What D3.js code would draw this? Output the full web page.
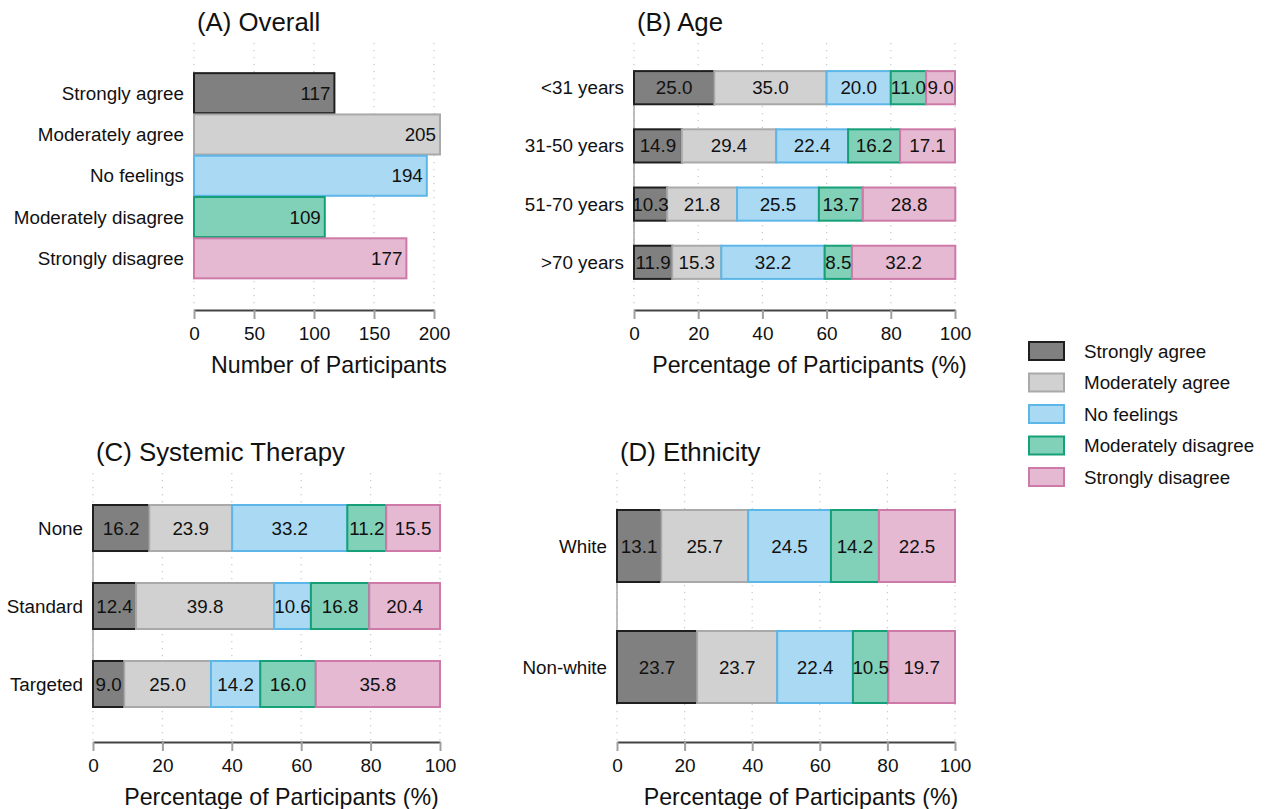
<!DOCTYPE html>
<html><head><meta charset="utf-8">
<script src="https://cdn.jsdelivr.net/npm/d3@7"></script>
<style>body{margin:0;background:#fff}svg{display:block;font-family:"Liberation Sans",Arial,Helvetica,sans-serif}</style>
</head><body><svg id="c" width="1270" height="809"></svg>
<script>
// ---- data ----
const responses = ["Strongly agree","Moderately agree","No feelings","Moderately disagree","Strongly disagree"];
const overallCounts = [117,205,194,109,177];

const ageGroups = ["<31 years","31-50 years","51-70 years",">70 years"];
const ageStronglyAgree = [25.0,14.9,10.3,11.9];
const ageModeratelyAgree = [35.0,29.4,21.8,15.3];
const ageNoFeelings = [20.0,22.4,25.5,32.2];
const ageModeratelyDisagree = [11.0,16.2,13.7,8.5];
const ageStronglyDisagree = [9.0,17.1,28.8,32.2];

const therapyGroups = ["None","Standard","Targeted"];
const therapyStronglyAgree = [16.2,12.4,9.0];
const therapyModeratelyAgree = [23.9,39.8,25.0];
const therapyNoFeelings = [33.2,10.6,14.2];
const therapyModeratelyDisagree = [11.2,16.8,16.0];
const therapyStronglyDisagree = [15.5,20.4,35.8];

const ethnicityGroups = ["White","Non-white"];
const ethStronglyAgree = [13.1,23.7];
const ethModeratelyAgree = [25.7,23.7];
const ethNoFeelings = [24.5,22.4];
const ethModeratelyDisagree = [14.2,10.5];
const ethStronglyDisagree = [22.5,19.7];

const countTicks = [0,50,100,150,200];
const pctTicks = [0,20,40,60,80,100];

// ---- styles ----
const fills = ["#808080","#d1d1d1","#aad9f3","#81d0b8","#e5b9d1"];
const strokes = ["#1f1f1f","#a9a9a9","#5db6e8","#16a077","#cd7aa8"];
const FS = 18.8;

const svg = d3.select("#c");

function frame(cfg) {
  const g = svg.append("g");
  const x = d3.scaleLinear().domain(cfg.domain).range([cfg.x0, cfg.x1]);
  const y = d3.scaleBand().domain(cfg.cats).range(cfg.yRange).paddingInner(cfg.pi).paddingOuter(0.5);
  g.selectAll(".grid").data(cfg.ticks).enter().append("line")
    .attr("x1", d => x(d)).attr("x2", d => x(d))
    .attr("y1", cfg.gridTop).attr("y2", cfg.axisY)
    .attr("stroke", "#c8c8c8").attr("stroke-width", 1.2).attr("stroke-dasharray", "1.2,5.8");
  g.append("line").attr("x1", cfg.x0).attr("x2", cfg.x0)
    .attr("y1", y(cfg.cats[0]) + y.bandwidth()/2)
    .attr("y2", y(cfg.cats[cfg.cats.length-1]) + y.bandwidth()/2)
    .attr("stroke", "#a8a8a8").attr("stroke-width", 1.5);
  const ax = g.append("g").attr("transform", `translate(0,${cfg.axisY})`)
    .call(d3.axisBottom(x).tickValues(cfg.ticks).tickSize(9).tickPadding(8).tickSizeOuter(0));
  ax.select(".domain").attr("stroke", "#444").attr("stroke-width", 2.2);
  ax.selectAll(".tick line").attr("stroke", "#a0a0a0").attr("stroke-width", 2);
  ax.selectAll(".tick text").attr("font-size", 19).attr("fill", "#111").attr("font-family", null);
  g.selectAll(".cat").data(cfg.cats).enter().append("text")
    .attr("x", cfg.x0 - 10).attr("y", d => y(d) + y.bandwidth()/2)
    .attr("dy", "0.35em").attr("text-anchor", "end").attr("font-size", FS).attr("fill", "#111")
    .text(d => d);
  g.append("text").attr("x", cfg.x0 + 3).attr("y", cfg.titleY).attr("font-size", 25.8).attr("fill", "#111").text(cfg.title);
  g.append("text").attr("x", (cfg.x0 + cfg.x1)/2 + 15).attr("y", cfg.axisY + 63)
    .attr("text-anchor", "middle").attr("font-size", 23.2).attr("fill", "#111").text(cfg.xTitle);
  return {g, x, y};
}

// Panel A
(function(){
  const cfg = {domain:[0,200], x0:194, x1:434, cats:responses, yRange:[52.5,299], pi:0.03,
    ticks:countTicks, gridTop:43, axisY:310, titleY:31, title:"(A) Overall", xTitle:"Number of Participants"};
  const {g,x,y} = frame(cfg);
  const data = responses.map((c,i) => ({c, v: overallCounts[i], i}));
  g.selectAll(".bar").data(data).enter().append("rect")
    .attr("x", x(0)).attr("y", d => y(d.c)).attr("width", d => x(d.v) - x(0)).attr("height", y.bandwidth())
    .attr("fill", d => fills[d.i]).attr("stroke", d => strokes[d.i]).attr("stroke-width", 2);
  g.selectAll(".val").data(data).enter().append("text")
    .attr("x", d => x(d.v) - 4).attr("y", d => y(d.c) + y.bandwidth()/2).attr("dy", "0.35em")
    .attr("text-anchor", "end").attr("font-size", FS).attr("fill", "#111").text(d => d.v);
})();

function stackedPanel(cfg, series) {
  const {g,x,y} = frame(cfg);
  const rows = cfg.cats.map((c,j) => {
    const o = {cat:c};
    responses.forEach((r,i) => o[r] = series[i][j]);
    return o;
  });
  const stacked = d3.stack().keys(responses)(rows);
  stacked.forEach((layer, i) => {
    g.selectAll(null).data(layer).enter().append("rect")
      .attr("x", d => x(d[0])).attr("y", d => y(d.data.cat))
      .attr("width", d => x(d[1]) - x(d[0])).attr("height", y.bandwidth())
      .attr("fill", fills[i]).attr("stroke", strokes[i]).attr("stroke-width", 2);
  });
  stacked.forEach((layer, i) => {
    g.selectAll(null).data(layer).enter().append("text")
      .attr("x", d => (x(d[0]) + x(d[1]))/2).attr("y", d => y(d.data.cat) + y.bandwidth()/2).attr("dy", "0.35em")
      .attr("text-anchor", "middle").attr("font-size", FS).attr("fill", "#111")
      .text(d => d3.format(".1f")(d[1] - d[0]));
  });
}

stackedPanel({domain:[0,100], x0:634, x1:955, cats:ageGroups, yRange:[42,308], pi:0.43,
  ticks:pctTicks, gridTop:43, axisY:310, titleY:31, title:"(B) Age", xTitle:"Percentage of Participants (%)"},
  [ageStronglyAgree, ageModeratelyAgree, ageNoFeelings, ageModeratelyDisagree, ageStronglyDisagree]);

stackedPanel({domain:[0,100], x0:93, x1:440, cats:therapyGroups, yRange:[466,746], pi:0.41,
  ticks:pctTicks, gridTop:473, axisY:742, titleY:461, title:"(C) Systemic Therapy", xTitle:"Percentage of Participants (%)"},
  [therapyStronglyAgree, therapyModeratelyAgree, therapyNoFeelings, therapyModeratelyDisagree, therapyStronglyDisagree]);

stackedPanel({domain:[0,100], x0:617, x1:955, cats:ethnicityGroups, yRange:[449.5,763.5], pi:0.405,
  ticks:pctTicks, gridTop:473, axisY:742, titleY:461, title:"(D) Ethnicity", xTitle:"Percentage of Participants (%)"},
  [ethStronglyAgree, ethModeratelyAgree, ethNoFeelings, ethModeratelyDisagree, ethStronglyDisagree]);

// Legend
const leg = svg.append("g");
const ly = d3.scalePoint().domain(responses).range([351, 477]);
leg.selectAll("rect").data(responses).enter().append("rect")
  .attr("x", 1029).attr("y", d => ly(d) - 9).attr("width", 35).attr("height", 18)
  .attr("fill", (d,i) => fills[i]).attr("stroke", (d,i) => strokes[i]).attr("stroke-width", 2);
leg.selectAll("text").data(responses).enter().append("text")
  .attr("x", 1084).attr("y", d => ly(d)).attr("dy", "0.35em")
  .attr("font-size", FS).attr("fill", "#111").text(d => d);
</script></body></html>
